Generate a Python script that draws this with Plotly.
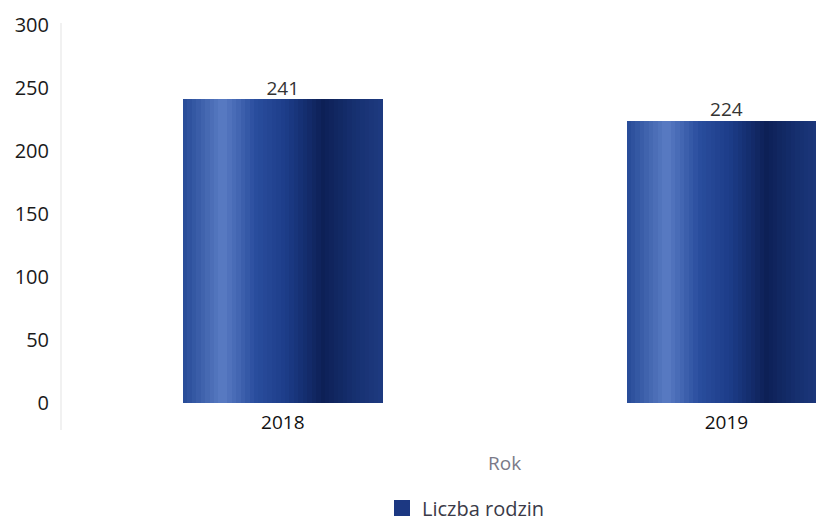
import plotly.graph_objects as go

categories = ["2018", "2019"]
values = [241, 224]
series_name = "Liczba rodzin"
x_title = "Rok"
y_ticks = [0, 50, 100, 150, 200, 250, 300]

# horizontal gradient stops (fraction, rgb) for cylinder-like shading
stops = [(0.0, (38, 74, 150)), (0.2, (90, 124, 196)), (0.36, (42, 78, 158)),
         (0.52, (28, 60, 136)), (0.7, (13, 32, 86)), (0.86, (22, 48, 112)),
         (1.0, (30, 58, 128))]

def color_at(t):
    for (t0, c0), (t1, c1) in zip(stops[:-1], stops[1:]):
        if t0 <= t <= t1:
            f = (t - t0) / (t1 - t0)
            c = [round(a + (b - a) * f) for a, b in zip(c0, c1)]
            return f"rgb({c[0]},{c[1]},{c[2]})"
    return f"rgb{stops[-1][1]}"

fig = go.Figure()
W = 0.45
N = 45
sw = W / N
for i in range(N):
    fig.add_trace(go.Bar(
        x=categories, y=values, width=sw * 1.05, offset=-W / 2 + i * sw,
        marker=dict(color=color_at((i + 0.5) / N), line=dict(width=0)),
        showlegend=False, hoverinfo="skip"))

# legend entry
fig.add_trace(go.Scatter(x=categories, y=[None, None], name=series_name,
                         mode="markers",
                         marker=dict(symbol="square", size=16, color="rgb(28,56,130)",
                                     line=dict(width=0)),
                         showlegend=True))

# value labels
fig.add_trace(go.Scatter(x=categories, y=values, mode="text",
                         text=[str(v) for v in values], textposition="top center",
                         textfont=dict(family="Open Sans", size=19, color="#333333"),
                         showlegend=False, hoverinfo="skip"))

PLOT_H = 378
fig.add_annotation(x=0.5, xref="x", y=-(463 - 403) / PLOT_H, yref="paper",
                   text=x_title, showarrow=False, yanchor="middle", xanchor="center",
                   font=dict(family="Open Sans", size=19, color="#7a7a88"))

# faint vertical axis line, extending a little below zero
fig.add_shape(type="line", xref="paper", yref="paper", x0=0, x1=0,
              y0=-(430 - 403) / PLOT_H, y1=1.005,
              line=dict(color="#ececec", width=1.5), layer="below")

fig.update_layout(
    width=816, height=513,
    margin=dict(l=53, r=0, t=17, b=118, autoexpand=False),
    paper_bgcolor="white", plot_bgcolor="white",
    barmode="overlay", bargap=0,
    font=dict(family="Open Sans", size=18, color="#222222"),
    xaxis=dict(type="category", range=[-0.5, 1.22], showgrid=False,
               showline=False, ticks="", automargin=False,
               tickfont=dict(family="Open Sans", size=19, color="#111111")),
    yaxis=dict(range=[0, 300], tickvals=y_ticks, showgrid=False,
               showline=False, zeroline=False, ticks="", ticklen=0,
               automargin=False,
               tickfont=dict(family="Open Sans", size=20, color="#1a1a1a")),
    legend=dict(orientation="h", x=(466 - 61) / 763, xanchor="center",
                y=-(508 - 403) / PLOT_H, yanchor="middle",
                font=dict(family="Open Sans", size=20, color="#3a3a48"),
                itemsizing="trace"),
)
fig.update_yaxes(ticklabelstandoff=11)
fig.update_xaxes(ticklabelstandoff=6)

fig.write_html("out.html")
